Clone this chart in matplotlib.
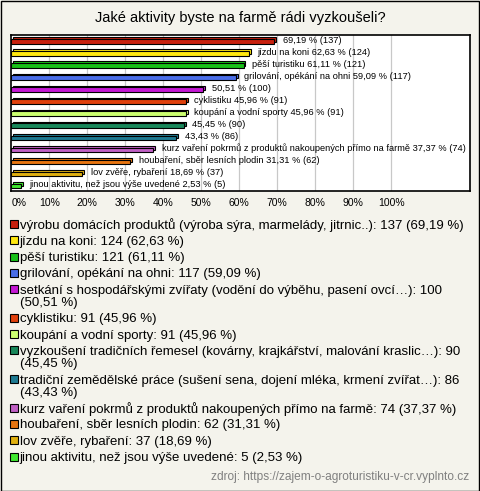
import matplotlib
matplotlib.use("Agg")
import matplotlib.pyplot as plt
from matplotlib.patches import Rectangle

plt.rcParams['font.family'] = ['Liberation Sans', 'DejaVu Sans']

title = "Jaké aktivity byste na farmě rádi vyzkoušeli?"
names = [
    "výrobu domácích produktů (výroba sýra, marmelády, jitrnic..)",
    "jízdu na koni",
    "pěší turistiku",
    "grilování, opékání na ohni",
    "setkání s hospodářskými zvířaty (vodění do výběhu, pasení ovcí…)",
    "cyklistiku",
    "koupání a vodní sporty",
    "vyzkoušení tradičních řemesel (kovárny, krajkářství, malování kraslic…)",
    "tradiční zemědělské práce (sušení sena, dojení mléka, krmení zvířat…)",
    "kurz vaření pokrmů z produktů nakoupených přímo na farmě",
    "houbaření, sběr lesních plodin",
    "lov zvěře, rybaření",
    "jinou aktivitu, než jsou výše uvedené",
]
counts = [137, 124, 121, 117, 100, 91, 91, 90, 86, 74, 62, 37, 5]
percents = [69.19, 62.63, 61.11, 59.09, 50.51, 45.96, 45.96, 45.45, 43.43, 37.37, 31.31, 18.69, 2.53]
# whether the bar label shows the category name
bar_label_named = [False, True, True, True, False, True, True, False, False, True, True, True, True]
# legend entries wrapped onto a second line
legend_wrap = [False, False, False, False, True, False, False, True, True, False, False, False, False]
colors = ["#C8200E", "#FFE810", "#18C018", "#4A6EE8", "#C418D4", "#E0400C",
          "#CCFF70", "#18875A", "#1E7A92", "#C060C4", "#E87510", "#E0B010", "#40E830"]
xticks = [0, 10, 20, 30, 40, 50, 60, 70, 80, 90, 100]
tick_labels = [f"{t}%" for t in xticks]
source = "zdroj: https://zajem-o-agroturistiku-v-cr.vyplnto.cz"

W, H = 480, 491
bg = "#F4F3EC"
fig = plt.figure(figsize=(W / 100, H / 100), dpi=100, facecolor=bg)

def fx(px):
    return px / W

def fy(py):
    return 1 - py / H

# outer border
fig.patches.append(Rectangle((0.5 / W, 0.5 / H), 1 - 1.5 / W, 1 - 1.5 / H, transform=fig.transFigure,
                             fill=False, edgecolor="#000000", linewidth=1.0))

fig.text(0.5, fy(18), title, ha="center", va="center", fontsize=10.5, color="#000000")

ax_l, ax_r, ax_t, ax_b = 11.3, 470, 34.5, 191
ax = fig.add_axes([fx(ax_l), fy(ax_b), fx(ax_r - ax_l), (ax_b - ax_t) / H])
ax.set_facecolor("white")
ax.set_xlim(0, (ax_r - ax_l) / 3.8)
ax.set_ylim(12.42, -0.58)
for s in ax.spines.values():
    s.set_linewidth(1.2)
    s.set_color("black")
ax.set_yticks([])
ax.set_xticks(xticks)
ax.set_xticklabels(tick_labels, fontsize=7.5)
ax.get_xticklabels()[0].set_horizontalalignment("left")
ax.tick_params(axis="x", length=0, pad=5)
for t in xticks[1:]:
    ax.axvline(t, color="#C8C8C8", linewidth=0.9, zorder=0)

ypos = list(range(len(percents)))
dx, dy = 0.5, 0.15
h = 0.38
# depth face
ax.barh([y - dy for y in ypos], percents, height=h, left=dx, color=colors,
        edgecolor="black", linewidth=0.8, zorder=2)
# front face
ax.barh(ypos, percents, height=h, color=colors, edgecolor="black", linewidth=0.8, zorder=3)

for y, p, c, n, named in zip(ypos, percents, counts, names, bar_label_named):
    val = f"{p:.2f}".replace(".", ",") + f" % ({c})"
    lab = f"{n} {val}" if named else val
    ax.text(p + 2.2, y - 0.1, lab, ha="left", va="center", fontsize=6.7, zorder=4)

# legend
ycur = 225.5
for n, c, p, col, wrap in zip(names, counts, percents, colors, legend_wrap):
    pstr = "(" + f"{p:.2f}".replace(".", ",") + " %)"
    fig.patches.append(Rectangle((fx(9.5), fy(ycur + 2.5)), 8 / W, 8 / H, transform=fig.transFigure,
                                 facecolor=col, edgecolor="black", linewidth=0.8))
    if wrap:
        fig.text(fx(19.5), fy(ycur), f"{n}: {c}", ha="left", va="center", fontsize=9.5)
        ycur += 12.3
        fig.text(fx(20.5), fy(ycur), pstr, ha="left", va="center", fontsize=9.5)
    else:
        fig.text(fx(19.5), fy(ycur), f"{n}: {c} {pstr}", ha="left", va="center", fontsize=9.5)
    ycur += 16.3

fig.text(fx(469), fy(477), source, ha="right", va="center", fontsize=8.6, color="#808080")

fig.savefig("out.png", dpi=100, facecolor=bg)
